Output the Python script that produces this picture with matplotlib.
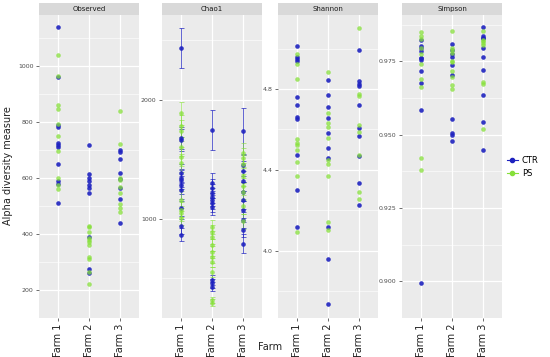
import matplotlib
matplotlib.use("Agg")
import matplotlib.pyplot as plt
from matplotlib.lines import Line2D

farms = ["Farm 1", "Farm 2", "Farm 3"]
groups = ["CTR", "PS"]

# Observed richness, per farm
observed_ctr = [[1140, 960, 790, 781, 726, 719, 712, 651, 589, 580, 511],
                [717, 613, 600, 589, 575, 566, 547, 391, 275, 262],
                [702, 692, 667, 620, 598, 565, 525, 441]]
observed_ps = [[1040, 965, 860, 848, 795, 750, 697, 600, 575, 562],
               [430, 425, 408, 385, 378, 370, 360, 318, 312, 263, 220],
               [840, 722, 600, 592, 570, 545, 506, 492, 478]]

# Chao1 estimate and its standard error
chao1_ctr = [[2438, 1679, 1665, 1386, 1344, 1330, 1288, 1240, 1090, 938, 869],
             [1748, 1300, 1258, 1216, 1188, 1160, 1132, 1104, 487, 459, 431],
             [1740, 1450, 1400, 1316, 1230, 1162, 1078, 994, 910, 790]]
chao1_ctr_se = [[167, 95, 95, 80, 78, 78, 75, 72, 65, 60, 55],
                [171, 84, 80, 78, 76, 75, 73, 70, 40, 38, 36],
                [190, 90, 88, 84, 80, 76, 72, 68, 64, 80]]
chao1_ps = [[1888, 1782, 1743, 1609, 1525, 1469, 1162, 1078, 1050, 1008],
            [935, 890, 845, 782, 725, 680, 641, 557, 319, 298],
            [1553, 1511, 1460, 1357, 1273, 1230, 1106, 980]]
chao1_ps_se = [[95, 90, 88, 82, 80, 78, 70, 65, 63, 60],
               [60, 58, 55, 52, 50, 48, 45, 42, 28, 26],
               [85, 82, 80, 76, 72, 70, 66, 60]]

shannon_ctr = [[5.013, 4.957, 4.947, 4.940, 4.762, 4.722, 4.663, 4.653, 4.472, 4.300, 4.118],
               [4.846, 4.772, 4.709, 4.656, 4.584, 4.508, 4.458, 4.116, 3.960, 3.736],
               [4.993, 4.841, 4.825, 4.815, 4.722, 4.605, 4.567, 4.468, 4.333, 4.229]]
shannon_ps = [[4.972, 4.924, 4.848, 4.554, 4.534, 4.521, 4.501, 4.439, 4.369, 4.092],
              [4.883, 4.683, 4.633, 4.610, 4.557, 4.450, 4.428, 4.372, 4.141, 4.103],
              [5.103, 4.775, 4.765, 4.622, 4.586, 4.473, 4.292, 4.255]]

simpson_ctr = [[0.9822, 0.9803, 0.9794, 0.9786, 0.9763, 0.9760, 0.9755, 0.9716, 0.9677, 0.9585, 0.8993],
               [0.9810, 0.9789, 0.9775, 0.9764, 0.9737, 0.9702, 0.9555, 0.9507, 0.9500, 0.9479],
               [0.9868, 0.9836, 0.9831, 0.9830, 0.9797, 0.9764, 0.9722, 0.9634, 0.9542, 0.9449]]
simpson_ps = [[0.9850, 0.9838, 0.9827, 0.9795, 0.9776, 0.9741, 0.9690, 0.9664, 0.9421, 0.9380],
              [0.9853, 0.9797, 0.9790, 0.9779, 0.9752, 0.9748, 0.9718, 0.9697, 0.9671, 0.9655],
              [0.9853, 0.9824, 0.9818, 0.9813, 0.9805, 0.9679, 0.9674, 0.9520]]

panels = [
    ("Observed", observed_ctr, observed_ps, None, None, (173, 1183), [200, 400, 600, 800, 1000], "{:.0f}"),
    ("Chao1", chao1_ctr, chao1_ps, chao1_ctr_se, chao1_ps_se, (168, 2714), [1000, 2000], "{:.0f}"),
    ("Shannon", shannon_ctr, shannon_ps, None, None, (3.668, 5.166), [4.0, 4.4, 4.8], "{:.1f}"),
    ("Simpson", simpson_ctr, simpson_ps, None, None, (0.8953, 0.9908), [0.900, 0.925, 0.950, 0.975], "{:.3f}"),
]

blue = "#1e22bf"
green = "#86e03a"
W, H = 550, 357
lefts = [39, 162, 278, 402]
pw = 100
top, bottom = 15, 318

fig = plt.figure(figsize=(5.5, 3.57), dpi=100)
fig.patch.set_facecolor("white")

for (name, ctr, ps, ctr_se, ps_se, ylim, ticks, fmt), lx in zip(panels, lefts):
    ax = fig.add_axes([lx / W, 1 - bottom / H, pw / W, (bottom - top) / H])
    ax.set_facecolor("#EBEBEB")
    for s in ax.spines.values():
        s.set_visible(False)
    ax.set_xlim(-0.6, 2.6)
    ax.set_ylim(*ylim)
    ax.set_xticks(range(3))
    ax.set_xticklabels(farms, rotation=90, fontsize=7, color="#222222")
    ax.set_yticks(ticks)
    ax.set_yticklabels([fmt.format(t) for t in ticks], fontsize=4.5, color="#4D4D4D")
    minor = [(a + b) / 2 for a, b in zip(ticks[:-1], ticks[1:])]
    step = ticks[1] - ticks[0]
    minor = [ticks[0] - step / 2] + minor + [ticks[-1] + step / 2]
    ax.set_yticks(minor, minor=True)
    ax.tick_params(axis="both", which="major", length=2, width=0.5, color="#333333", pad=2)
    ax.tick_params(axis="y", which="minor", length=0)
    ax.grid(True, which="major", color="white", linewidth=0.9)
    ax.grid(True, which="minor", axis="y", color="white", linewidth=0.4)
    ax.set_axisbelow(True)

    for i in range(3):
        if ctr_se is not None:
            ax.errorbar([i] * len(ctr[i]), ctr[i], yerr=ctr_se[i], fmt="none",
                        ecolor=blue, elinewidth=0.7, capsize=1.8, capthick=0.7, alpha=0.7)
            ax.errorbar([i] * len(ps[i]), ps[i], yerr=ps_se[i], fmt="none",
                        ecolor=green, elinewidth=0.7, capsize=1.8, capthick=0.7, alpha=0.6)
        ax.plot([i] * len(ctr[i]), ctr[i], "o", color=blue, markersize=3.3,
                markeredgewidth=0, alpha=0.9)
        ax.plot([i] * len(ps[i]), ps[i], "o", color=green, markersize=3.3,
                markeredgewidth=0, alpha=0.75)

    sax = fig.add_axes([lx / W, 1 - top / H, pw / W, 12 / H])
    sax.set_facecolor("#D9D9D9")
    sax.set_xticks([])
    sax.set_yticks([])
    for s in sax.spines.values():
        s.set_visible(False)
    sax.text(0.5, 0.5, name, ha="center", va="center", fontsize=5, color="#1A1A1A",
             transform=sax.transAxes)

fig.text(8 / W, 1 - 166 / H, "Alpha diversity measure", rotation=90, ha="center",
         va="center", fontsize=7, color="#222222")
fig.text(270 / W, 1 - 347 / H, "Farm", ha="center", va="center", fontsize=7, color="#222222")

handles = [Line2D([0], [0], color=blue, marker="o", markersize=3, linewidth=0.8),
           Line2D([0], [0], color=green, marker="o", markersize=3, linewidth=0.8)]
leg = fig.legend(handles, groups, loc="center left", bbox_to_anchor=(506 / W, 1 - 167 / H),
                 fontsize=6, frameon=False, handlelength=1.3, handletextpad=0.5,
                 labelspacing=0.5, borderpad=0.1, borderaxespad=0.0)

fig.savefig("out.png", dpi=100)
